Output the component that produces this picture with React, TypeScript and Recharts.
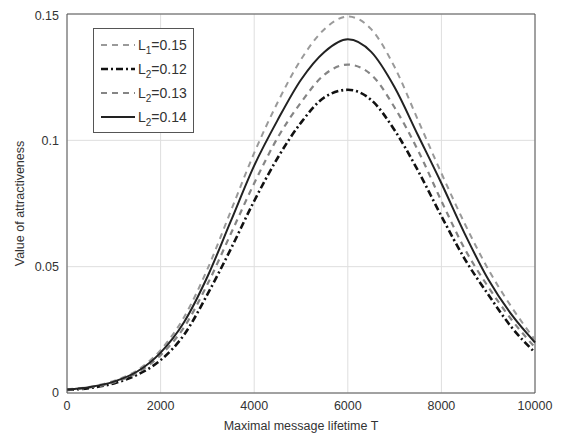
import React from 'react';
import {
  LineChart,
  Line,
  XAxis,
  YAxis,
  CartesianGrid,
  ReferenceLine,
} from 'recharts';

// maximal message lifetime T
const lifetime = [
  0, 500, 1000, 1500, 2000, 2500, 3000, 3500, 4000, 4500, 5000,
  5500, 6000, 6500, 7000, 7500, 8000, 8500, 9000, 9500, 10000,
];

// value of attractiveness
const l1_015 = [
  0.0015, 0.0025, 0.0048, 0.009, 0.017, 0.03, 0.049, 0.072, 0.095, 0.115, 0.132,
  0.144, 0.149, 0.144, 0.129, 0.108, 0.087, 0.067, 0.049, 0.034, 0.021,
];
const l2_012 = [
  0.0012, 0.002, 0.0038, 0.0072, 0.013, 0.023, 0.039, 0.057, 0.076, 0.093, 0.107,
  0.117, 0.12, 0.116, 0.104, 0.088, 0.07, 0.053, 0.039, 0.026, 0.016,
];
const l2_013 = [
  0.0013, 0.0022, 0.0042, 0.008, 0.015, 0.026, 0.043, 0.063, 0.083, 0.101, 0.115,
  0.126, 0.13, 0.126, 0.113, 0.096, 0.076, 0.057, 0.042, 0.029, 0.018,
];
const l2_014 = [
  0.0014, 0.0024, 0.0045, 0.0085, 0.016, 0.028, 0.046, 0.068, 0.09, 0.108, 0.124,
  0.135, 0.14, 0.135, 0.121, 0.102, 0.083, 0.063, 0.045, 0.031, 0.02,
];

const xTicks = [0, 2000, 4000, 6000, 8000, 10000];
const yTicks = [0, 0.05, 0.1, 0.15];

const legendItems = [
  { sub: '1', value: '0.15', stroke: '#9a9a9a', dash: '6 5', width: 2 },
  { sub: '2', value: '0.12', stroke: '#111', dash: '7 3 2 3', width: 2.6 },
  { sub: '2', value: '0.13', stroke: '#858585', dash: '6 5', width: 2.2 },
  { sub: '2', value: '0.14', stroke: '#222', dash: undefined, width: 2 },
];

const data = lifetime.map((t, i) => ({
  t,
  a: l1_015[i],
  b: l2_012[i],
  c: l2_013[i],
  d: l2_014[i],
}));

const FONT = '"Liberation Sans", Arial, Helvetica, sans-serif';

// drawn over the plot, MATLAB-style boxed legend
const LegendBox = () => (
  <svg
    width={102}
    height={106}
    style={{ position: 'absolute', left: 85, top: 20, display: 'block' }}
  >
    <rect x={0.5} y={0.5} width={100} height={104} fill="#fff" stroke="#555" />
    {legendItems.map((it, i) => {
      const y = 17 + i * 24;
      return (
        <g key={i}>
          <line
            x1={8}
            x2={42}
            y1={y}
            y2={y}
            stroke={it.stroke}
            strokeWidth={it.width}
            strokeDasharray={it.dash}
          />
          <text x={45} y={y + 5} fontSize={14} fill="#333" fontFamily={FONT}>
            L
            <tspan dy={4} fontSize={10}>
              {it.sub}
            </tspan>
            <tspan dy={-4}>={it.value}</tspan>
          </text>
        </g>
      );
    })}
  </svg>
);

export default function App() {
  return (
    <div style={{ position: 'relative', width: 555, height: 427, fontFamily: FONT }}>
      <LineChart
        width={555}
        height={427}
        data={data}
        margin={{ top: 6, right: 28, left: 19, bottom: 0 }}
      >
        <CartesianGrid stroke="#dedede" />
        <XAxis
          dataKey="t"
          type="number"
          domain={[0, 10000]}
          ticks={xTicks}
          height={42}
          tick={{ fill: '#333', fontSize: 12.5 }}
          tickLine={false}
          axisLine={{ stroke: '#555' }}
          label={{
            value: 'Maximal message lifetime T',
            position: 'insideBottom',
            offset: 5,
            fill: '#333',
            fontSize: 12.5,
          }}
        />
        <YAxis
          type="number"
          domain={[0, 0.15]}
          ticks={yTicks}
          width={40}
          tick={{ fill: '#333', fontSize: 12.5 }}
          tickLine={false}
          axisLine={{ stroke: '#555' }}
          label={{
            value: 'Value of attractiveness',
            angle: -90,
            position: 'insideLeft',
            offset: -7,
            fill: '#333',
            fontSize: 12.5,
            style: { textAnchor: 'middle' },
          }}
        />
        <ReferenceLine y={0.15} stroke="#555" />
        <ReferenceLine x={10000} stroke="#555" />
        <Line dataKey="a" type="monotone" stroke="#9a9a9a" strokeWidth={2} strokeDasharray="6 5" dot={false} isAnimationActive={false} />
        <Line dataKey="b" type="monotone" stroke="#111" strokeWidth={2.6} strokeDasharray="7 3 2 3" dot={false} isAnimationActive={false} />
        <Line dataKey="c" type="monotone" stroke="#858585" strokeWidth={2.2} strokeDasharray="6 5" dot={false} isAnimationActive={false} />
        <Line dataKey="d" type="monotone" stroke="#222" strokeWidth={2} dot={false} isAnimationActive={false} />
      </LineChart>
      <LegendBox />
    </div>
  );
}
